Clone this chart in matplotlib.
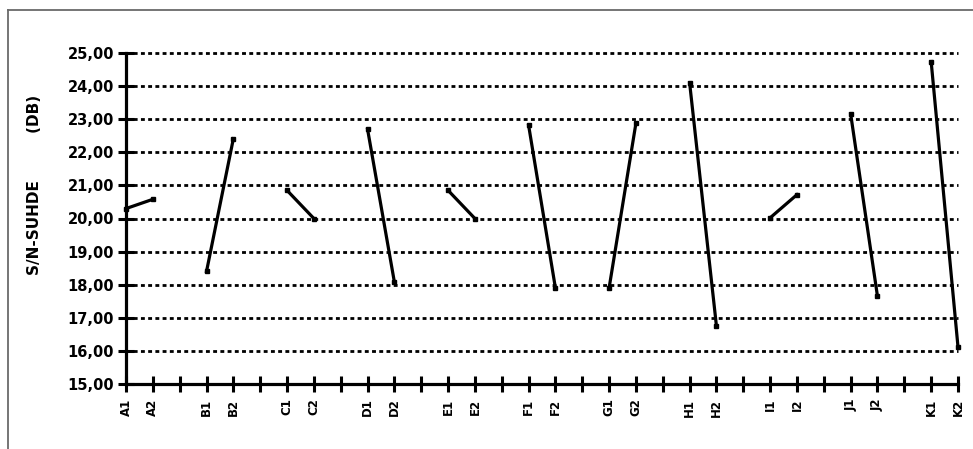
import matplotlib
matplotlib.use("Agg")
import matplotlib.pyplot as plt
from matplotlib.lines import Line2D

# ---- data ----
factors = ["A", "B", "C", "D", "E", "F", "G", "H", "I", "J", "K"]
level1 = [20.30, 18.40, 20.85, 22.70, 20.85, 22.82, 17.90, 24.10, 20.02, 23.16, 24.74]
level2 = [20.58, 22.41, 20.00, 18.08, 20.00, 17.90, 22.88, 16.75, 20.72, 17.65, 16.12]
yticks = [15, 16, 17, 18, 19, 20, 21, 22, 23, 24, 25]
ylabel = "S/N-SUHDE         (DB)"

W, H = 973, 449
fig = plt.figure(figsize=(W / 100, H / 100), dpi=100)
fig.patch.set_facecolor("white")

L, R, T, B = 126, 958, 53, 384
ax = fig.add_axes([L / W, 1 - B / H, (R - L) / W, (B - T) / H])

# positions: each factor has two levels then one empty slot
tick_pos = []
tick_lab = []
for i, f in enumerate(factors):
    p = 3 * i
    tick_pos += [p, p + 1]
    tick_lab += [f + "1", f + "2"]
    if i < len(factors) - 1:
        tick_pos.append(p + 2)
        tick_lab.append("")

xmax = 3 * (len(factors) - 1) + 1
ax.set_xlim(0, xmax)
ax.set_ylim(15, 25)

# grid lines
for yv in yticks[1:]:
    ax.plot([0, xmax], [yv, yv], color="black",
            lw=2.0, linestyle=(0, (1.4, 1.2)), zorder=1, clip_on=False,
            solid_capstyle="butt", dash_capstyle="butt")

# data segments
for i in range(len(factors)):
    xs = [3 * i, 3 * i + 1]
    ys = [level1[i], level2[i]]
    ax.plot(xs, ys, color="black", lw=2.3, zorder=3,
            marker="s", markersize=3.2, clip_on=False)

ax.set_xticks(tick_pos)
ax.set_xticklabels(tick_lab, rotation=90, fontsize=8.5, fontweight="bold",
                   family="DejaVu Sans")
ax.set_yticks(yticks)
ax.set_yticklabels([f"{v:.2f}".replace(".", ",") for v in yticks],
                   fontsize=10.5, fontweight="bold", family="DejaVu Sans")

ax.tick_params(axis="both", direction="inout", length=11, width=2.2,
               color="black")
ax.tick_params(axis="x", pad=5)
ax.tick_params(axis="y", pad=3)

for s in ["top", "right"]:
    ax.spines[s].set_visible(False)
for s in ["left", "bottom"]:
    ax.spines[s].set_linewidth(2.3)
    ax.spines[s].set_color("black")
ax.set_facecolor("none")

fig.text(35 / W, 1 - 185 / H, ylabel, rotation=90, ha="center", va="center",
         fontsize=11, fontweight="bold", family="DejaVu Sans")

# outer frame (partially visible)
fig.add_artist(Line2D([8 / W, 8 / W], [1 - 10 / H, 0], transform=fig.transFigure,
                      color="#6a6a6a", lw=1.3))
fig.add_artist(Line2D([8 / W, 1], [1 - 10 / H, 1 - 10 / H], transform=fig.transFigure,
                      color="#6a6a6a", lw=1.3))

fig.savefig("out.png", dpi=100, facecolor="white")
